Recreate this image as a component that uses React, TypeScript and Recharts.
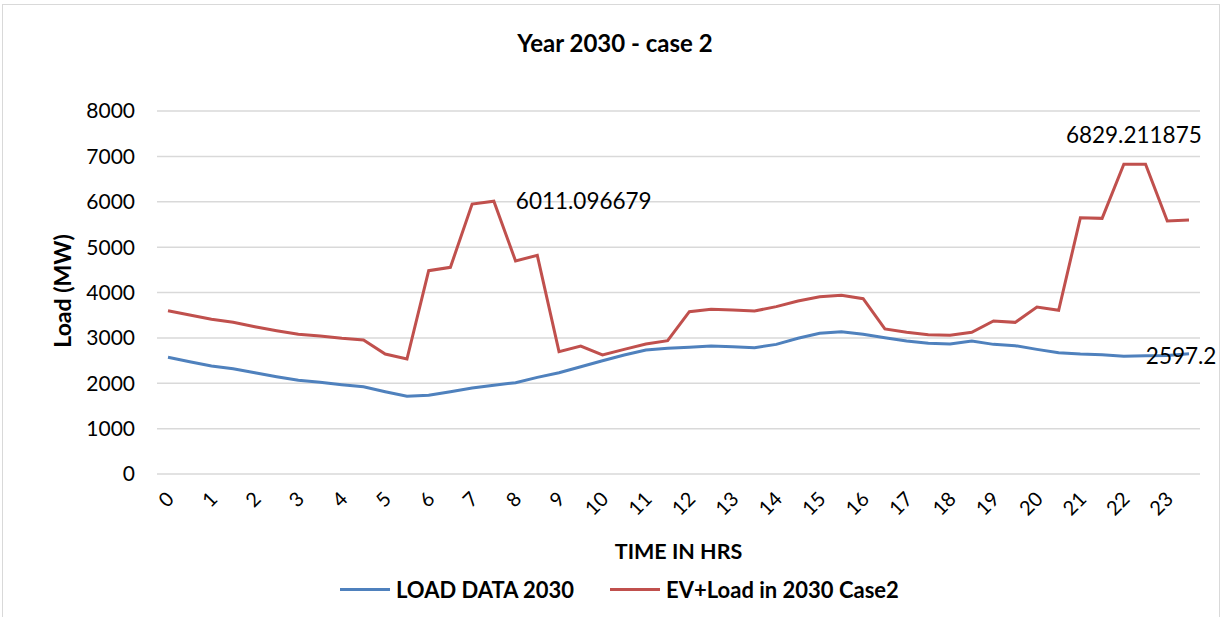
import { CartesianGrid, LabelList, Line, LineChart, XAxis, YAxis } from "recharts";

// half-hour slots, labelled by hour on the axis
const slots = [
  0, 0.5, 1, 1.5, 2, 2.5, 3, 3.5, 4, 4.5, 5, 5.5, 6, 6.5, 7, 7.5, 8, 8.5, 9, 9.5, 10, 10.5,
  11, 11.5, 12, 12.5, 13, 13.5, 14, 14.5, 15, 15.5, 16, 16.5, 17, 17.5, 18, 18.5, 19, 19.5,
  20, 20.5, 21, 21.5, 22, 22.5, 23, 23.5,
];
const hourTicks = [0, 1, 2, 3, 4, 5, 6, 7, 8, 9, 10, 11, 12, 13, 14, 15, 16, 17, 18, 19, 20, 21, 22, 23];
const loadTicks = [0, 1000, 2000, 3000, 4000, 5000, 6000, 7000, 8000];

const load2030 = [
  2571, 2475, 2380, 2321, 2233, 2145, 2064, 2020, 1968, 1924, 1814, 1712, 1734, 1814, 1895, 1954,
  2013, 2130, 2233, 2365, 2497, 2623, 2733, 2769, 2791, 2821, 2806, 2784, 2857, 2990, 3100, 3137,
  3078, 3004, 2931, 2880, 2865, 2931, 2857, 2828, 2747, 2674, 2645, 2630, 2597.2, 2605, 2612, 2650,
];
const evLoad2030 = [
  3599, 3504, 3409, 3343, 3247, 3159, 3078, 3041, 2990, 2953, 2645, 2534, 4481, 4555, 5950, 6011.096679,
  4694, 4819, 2696, 2821, 2623, 2747, 2865, 2938, 3577, 3629, 3614, 3592, 3688, 3813, 3908, 3938,
  3864, 3196, 3122, 3071, 3056, 3122, 3372, 3342, 3680, 3607, 5649, 5634, 6829.211875, 6829.211875, 5576, 5598,
];

// which points carry a data label
const loadLabelAt = [44];
const evLabelAt = [15, 44];

const data = slots.map((t, i) => ({ t, load: load2030[i], ev: evLoad2030[i] }));

const FONT = "Lato, 'Open Sans', sans-serif";
const BLUE = "#4f81bd";
const RED = "#c0504d";

function HourTick(props: any) {
  const { x, y, payload } = props;
  return (
    <g transform={`translate(${x + 3},${y + 14})`}>
      <text transform="rotate(-45)" textAnchor="end" dy={6} fontSize={20} fontFamily={FONT} fill="#000">
        {payload.value}
      </text>
    </g>
  );
}

function pointLabel(at: number[], placement: Record<number, "right" | "top">) {
  return (props: any) => {
    const { x, y, value, index } = props;
    if (!at.includes(index)) return null;
    const top = placement[index] === "top";
    return (
      <text
        x={top ? x + 10 : x + 22}
        y={top ? y - 27 : y + 2}
        textAnchor={top ? "middle" : "start"}
        dominantBaseline="middle"
        fontSize={22.5}
        fontFamily={FONT}
        fill="#000"
      >
        {value}
      </text>
    );
  };
}

export default function App() {
  return (
    <div style={{ position: "absolute", left: 0, top: 0, width: 1227, height: 617, background: "#fff", fontFamily: FONT }}>
      <div style={{ position: "absolute", left: 2, top: 4, width: 1216, height: 620, border: "1px solid #d9d9d9" }} />
      <div style={{ position: "absolute", left: 0, width: 1230, top: 28, textAlign: "center", fontWeight: 700, fontSize: 24 }}>
        Year 2030 - case 2
      </div>
      <LineChart width={1227} height={617} data={data} margin={{ top: 111, right: 27, bottom: 73, left: 20 }}>
        <CartesianGrid vertical={false} stroke="#d9d9d9" strokeWidth={1.5} />
        <XAxis
          dataKey="t"
          ticks={hourTicks}
          interval={0}
          height={70}
          padding={{ left: 11, right: 11 }}
          axisLine={false}
          tickLine={false}
          tick={<HourTick />}
        />
        <YAxis
          width={137}
          domain={[0, 8000]}
          ticks={loadTicks}
          axisLine={false}
          tickLine={false}
          tickSize={6}
          tickMargin={16}
          tick={{ fontSize: 21, fill: "#000", fontFamily: FONT }}
        />
        <Line type="linear" dataKey="load" stroke={BLUE} strokeWidth={3} dot={false} isAnimationActive={false}>
          <LabelList dataKey="load" content={pointLabel(loadLabelAt, { 44: "right" })} />
        </Line>
        <Line type="linear" dataKey="ev" stroke={RED} strokeWidth={3} dot={false} isAnimationActive={false}>
          <LabelList dataKey="ev" content={pointLabel(evLabelAt, { 15: "right", 44: "top" })} />
        </Line>
      </LineChart>
      <div
        style={{
          position: "absolute", left: 62, top: 291, transform: "translate(-50%,-50%) rotate(-90deg)",
          fontWeight: 700, fontSize: 23, whiteSpace: "nowrap",
        }}
      >
        Load (MW)
      </div>
      <div style={{ position: "absolute", left: 157, width: 1043, top: 538, textAlign: "center", fontWeight: 700, fontSize: 21.5 }}>
        TIME IN HRS
      </div>
      <div style={{ position: "absolute", left: 340, top: 576, display: "flex", alignItems: "center", fontWeight: 700, fontSize: 22 }}>
        <span style={{ display: "inline-block", width: 50, height: 3, background: BLUE, marginRight: 6 }} />
        <span style={{ marginRight: 36 }}>LOAD DATA 2030</span>
        <span style={{ display: "inline-block", width: 50, height: 3, background: RED, marginRight: 6 }} />
        <span>EV+Load in 2030 Case2</span>
      </div>
    </div>
  );
}
